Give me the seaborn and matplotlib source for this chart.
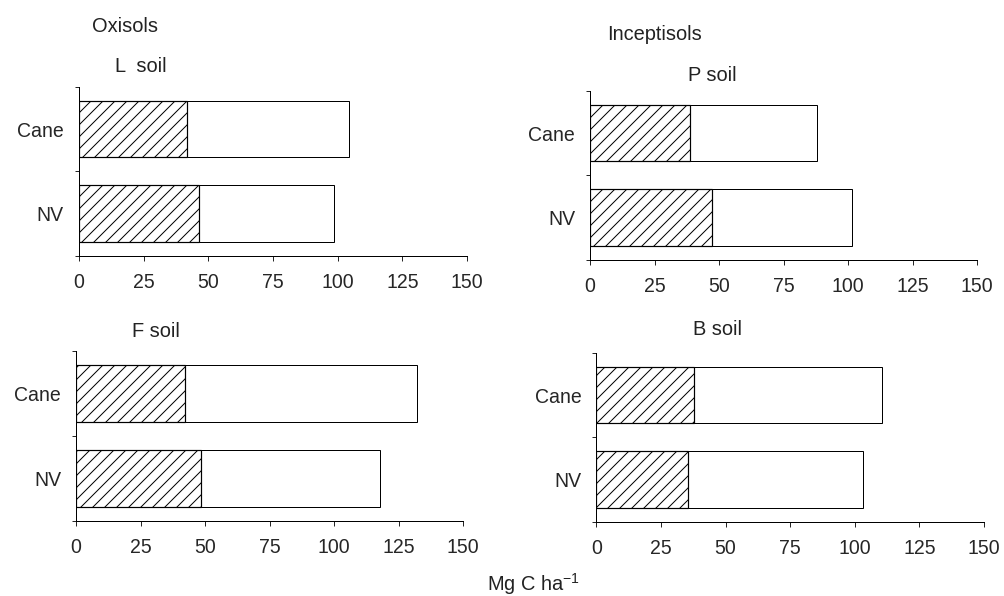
import numpy as np
import pandas as pd
import matplotlib
matplotlib.use("Agg")
import matplotlib.pyplot as plt
import seaborn as sns

# values (Mg C ha-1)
categories = ["Cane", "NV"]
panels = ["L  soil", "P soil", "F soil", "B soil"]
l_hatched = [41.6, 46.4]
l_total = [104.4, 98.7]
p_hatched = [38.7, 47.4]
p_total = [87.8, 101.4]
f_hatched = [42.2, 48.4]
f_total = [132.2, 117.6]
b_hatched = [37.9, 35.6]
b_total = [110.6, 103.0]
xticks = [0, 25, 50, 75, 100, 125, 150]

sns.set_style("ticks")
plt.rcParams["font.family"] = ["Liberation Sans", "DejaVu Sans"]
plt.rcParams["hatch.linewidth"] = 1.0

W, H = 1004, 596
fig = plt.figure(figsize=(W / 72, H / 72), dpi=72)


def px_axes(left, top, right, bottom):
    return fig.add_axes([left / W, 1 - bottom / H, (right - left) / W, (bottom - top) / H])


boxes = [
    (79, 86.7, 467, 256),
    (590, 90.7, 977.3, 260),
    (76, 351, 463.3, 521),
    (596.3, 352.7, 984, 522),
]
data = [(l_hatched, l_total), (p_hatched, p_total), (f_hatched, f_total), (b_hatched, b_total)]

for box, (hatched, total) in zip(boxes, data):
    ax = px_axes(*box)
    df = pd.DataFrame({"cat": categories, "hatched": hatched, "total": total})
    sns.barplot(data=df, x="total", y="cat", color="white", edgecolor="black",
                linewidth=1.0, width=0.67, ax=ax, saturation=1)
    sns.barplot(data=df, x="hatched", y="cat", color="white", edgecolor="black",
                linewidth=1.2, width=0.67, hatch="//", ax=ax, saturation=1)
    ax.set_xlim(0, 150)
    ax.set_ylim(1.5, -0.5)
    ax.set_xticks(xticks)
    ax.set_xticklabels([str(t) for t in xticks])
    ax.set_yticks([-0.5, 0.5, 1.5], minor=True)
    ax.tick_params(axis="y", which="major", length=0, pad=15, labelsize=19.5)
    ax.tick_params(axis="y", which="minor", length=4.5, width=1, direction="out")
    ax.tick_params(axis="x", length=5, width=1, direction="out", pad=12, labelsize=19.5)
    ax.set_xlabel("")
    ax.set_ylabel("")
    sns.despine(ax=ax)
    for s in ["left", "bottom"]:
        ax.spines[s].set_linewidth(1.0)
        ax.spines[s].set_color("black")

txt = dict(fontsize=20, va="baseline", ha="left", color="#222222")
fig.text(91.7 / W, 1 - 32 / H, "Oxisols", **txt)
fig.text(115 / W, 1 - 72 / H, "L  soil", **txt)
fig.text(606.7 / W, 1 - 40 / H, "Inceptisols", **txt)
fig.text(688 / W, 1 - 81 / H, "P soil", **txt)
fig.text(131.7 / W, 1 - 336.7 / H, "F soil", **txt)
fig.text(693 / W, 1 - 335 / H, "B soil", **txt)
fig.text(486.7 / W, 1 - 591 / H, "Mg C ha$^{\\mathregular{\u22121}}$", **txt)

fig.savefig("out.png", dpi=72, facecolor="white")
